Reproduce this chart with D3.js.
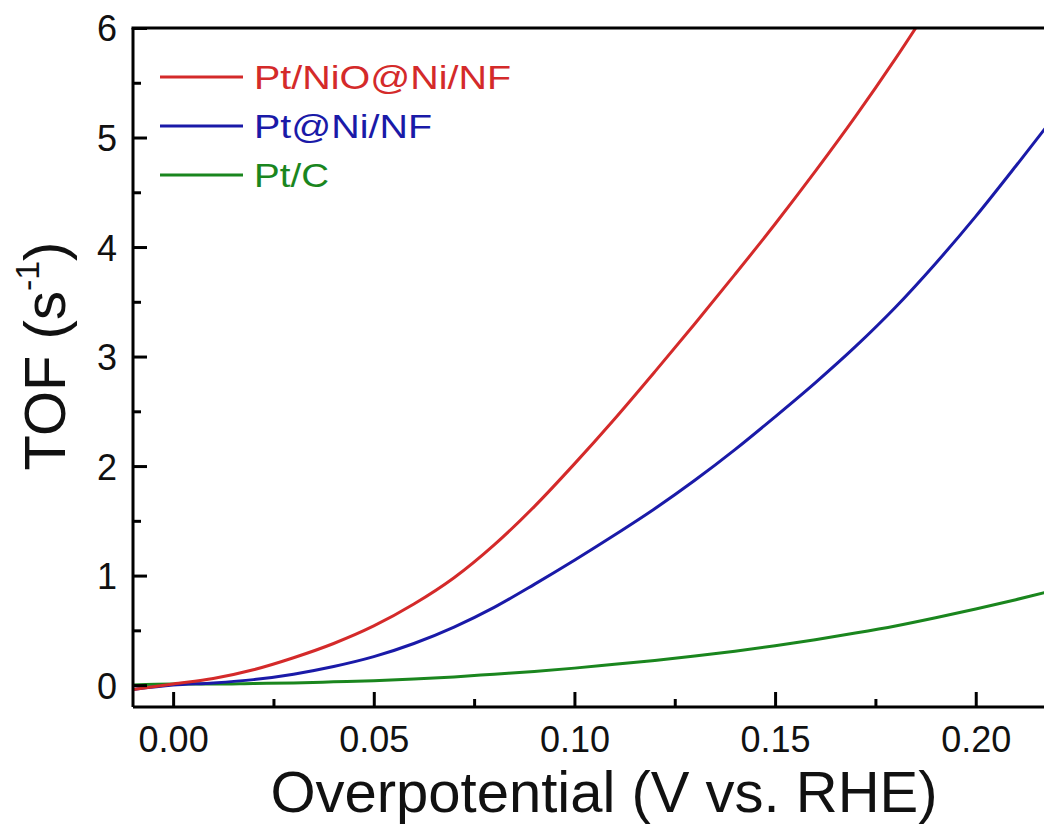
<!DOCTYPE html>
<html>
<head>
<meta charset="utf-8">
<script src="https://cdn.jsdelivr.net/npm/d3@7"></script>
<style>
  html, body { margin: 0; padding: 0; background: #fff; }
  svg { display: block; }
  text { font-family: "Liberation Sans", Arial, sans-serif; }
</style>
</head>
<body>
<svg id="chart" width="1044" height="824"></svg>
<script>
// ---- data ----
const seriesNames = ["Pt/NiO@Ni/NF", "Pt@Ni/NF", "Pt/C"];
const seriesColors = ["#d42a2a", "#1a1aa8", "#1a861e"];

const etaRed = [-0.01, 0.00, 0.01, 0.02, 0.03, 0.04, 0.05, 0.06, 0.07, 0.08, 0.09, 0.10, 0.11, 0.12, 0.13, 0.14, 0.15, 0.16, 0.17, 0.18, 0.19];
const tofRed = [-0.04, 0.01, 0.06, 0.14, 0.25, 0.38, 0.54, 0.74, 0.98, 1.28, 1.63, 2.02, 2.43, 2.86, 3.30, 3.75, 4.21, 4.69, 5.19, 5.72, 6.28];

const etaBlue = [-0.01, 0.00, 0.01, 0.02, 0.03, 0.04, 0.05, 0.06, 0.07, 0.08, 0.09, 0.10, 0.11, 0.12, 0.13, 0.14, 0.15, 0.16, 0.17, 0.18, 0.19, 0.20, 0.21, 0.22];
const tofBlue = [-0.04, 0.00, 0.02, 0.05, 0.10, 0.17, 0.26, 0.38, 0.53, 0.71, 0.92, 1.14, 1.37, 1.61, 1.87, 2.15, 2.45, 2.76, 3.09, 3.45, 3.85, 4.28, 4.74, 5.21];

const etaGreen = [-0.01, 0.00, 0.01, 0.02, 0.03, 0.04, 0.05, 0.06, 0.07, 0.08, 0.09, 0.10, 0.11, 0.12, 0.13, 0.14, 0.15, 0.16, 0.17, 0.18, 0.19, 0.20, 0.21, 0.22];
const tofGreen = [0.00, 0.01, 0.01, 0.015, 0.02, 0.03, 0.04, 0.055, 0.075, 0.10, 0.125, 0.155, 0.19, 0.225, 0.265, 0.31, 0.36, 0.415, 0.475, 0.54, 0.615, 0.695, 0.78, 0.87];

const xMajorTicks = [0.00, 0.05, 0.10, 0.15, 0.20];
const xMinorTicks = [0.025, 0.075, 0.125, 0.175];
const yMajorTicks = [0, 1, 2, 3, 4, 5, 6];
const yMinorTicks = [0.5, 1.5, 2.5, 3.5, 4.5, 5.5];

const xTitle = "Overpotential (V vs. RHE)";

// ---- layout ----
const svg = d3.select("#chart");
const W = 1044, H = 824;
const pLeft = 133, pRight = 1056, pTop = 28, pBottom = 707;

const x = d3.scaleLinear().domain([-0.01, 0.22]).range([pLeft, pRight]);
const y = d3.scaleLinear().domain([-0.2, 6]).range([pBottom, pTop]);

svg.append("defs").append("clipPath").attr("id", "plotclip")
  .append("rect").attr("x", pLeft).attr("y", pTop).attr("width", W - pLeft).attr("height", pBottom - pTop);

// ---- lines ----
const series = [
  { eta: etaRed, tof: tofRed },
  { eta: etaBlue, tof: tofBlue },
  { eta: etaGreen, tof: tofGreen }
];
const line = d3.line().x(d => x(d[0])).y(d => y(d[1])).curve(d3.curveMonotoneX);
const gLines = svg.append("g").attr("clip-path", "url(#plotclip)");
[2, 1, 0].forEach(i => {
  const s = series[i];
  gLines.append("path")
    .datum(s.eta.map((e, k) => [e, s.tof[k]]))
    .attr("fill", "none")
    .attr("stroke", seriesColors[i])
    .attr("stroke-width", 3)
    .attr("stroke-linejoin", "round")
    .attr("d", line);
});

// ---- axes ----
const axisStroke = 3;
const tickFont = "36px";
const xAxis = d3.axisBottom(x).tickValues(xMajorTicks).tickFormat(d3.format(".2f"))
  .tickSizeInner(-15).tickSizeOuter(0).tickPadding(19);
const gx = svg.append("g").attr("transform", `translate(0,${pBottom})`).call(xAxis);
const xMinor = d3.axisBottom(x).tickValues(xMinorTicks).tickFormat("").tickSizeInner(-8).tickSizeOuter(0);
const gxm = svg.append("g").attr("transform", `translate(0,${pBottom})`).call(xMinor);
gxm.select(".domain").remove();

const yAxis = d3.axisLeft(y).tickValues(yMajorTicks).tickFormat(d3.format("d"))
  .tickSizeInner(-14).tickSizeOuter(0).tickPadding(16);
const gy = svg.append("g").attr("transform", `translate(${pLeft},0)`).call(yAxis);
const yMinor = d3.axisLeft(y).tickValues(yMinorTicks).tickFormat("").tickSizeInner(-8).tickSizeOuter(0);
const gym = svg.append("g").attr("transform", `translate(${pLeft},0)`).call(yMinor);
gym.select(".domain").remove();

[gx, gxm, gy, gym].forEach(g => {
  g.selectAll("line").attr("stroke", "#000").attr("stroke-width", axisStroke);
  g.selectAll(".domain").attr("stroke", "#000").attr("stroke-width", axisStroke);
  g.selectAll("text").attr("fill", "#111").style("font-size", tickFont)
    .style("font-family", "'Liberation Sans', Arial, sans-serif");
});
gx.selectAll(".domain").attr("d", `M${pLeft},0H${W + 10}`);
gy.selectAll(".domain").attr("d", `M0,${pTop}V${pBottom}`);
gy.selectAll("text").attr("dy", "0.36em");

// top frame
svg.append("line").attr("x1", pLeft - 1.5).attr("x2", W + 10).attr("y1", pTop).attr("y2", pTop)
  .attr("stroke", "#000").attr("stroke-width", axisStroke);

// ---- axis titles ----
svg.append("text").attr("x", 604).attr("y", 812).attr("text-anchor", "middle")
  .style("font-size", "58px").attr("fill", "#111").text(xTitle);

const yt = svg.append("text")
  .attr("transform", `translate(65,356) rotate(-90)`)
  .attr("text-anchor", "middle")
  .style("font-size", "58px").attr("fill", "#111");
yt.append("tspan").text("TOF (s");
yt.append("tspan").style("font-size", "34px").attr("dy", "-26").text("-1");
yt.append("tspan").attr("dy", "26").text(")");

// ---- legend ----
const legendY = [77, 126, 175];
const legendTextLen = [257, 178, 75];
seriesNames.forEach((name, i) => {
  svg.append("line").attr("x1", 160).attr("x2", 243)
    .attr("y1", legendY[i]).attr("y2", legendY[i])
    .attr("stroke", seriesColors[i]).attr("stroke-width", 3);
  svg.append("text").attr("x", 254).attr("y", legendY[i] + 12)
    .style("font-size", "33px").attr("fill", seriesColors[i])
    .attr("textLength", legendTextLen[i]).attr("lengthAdjust", "spacingAndGlyphs")
    .text(name);
});
</script>
</body>
</html>
